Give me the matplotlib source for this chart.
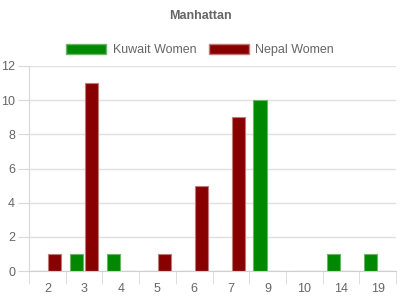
import matplotlib
matplotlib.use("Agg")
import matplotlib.pyplot as plt
from matplotlib.patches import Patch
import numpy as np

plt.rcParams['font.family'] = ['Liberation Sans', 'DejaVu Sans']

# dados
categorias = ['2', '3', '4', '5', '6', '7', '9', '10', '14', '19']
kuwait = [0, 1, 1, 0, 0, 0, 10, 0, 1, 1]
nepal = [1, 11, 0, 1, 5, 9, 0, 0, 0, 0]

verde = '#008800'
vermelho = '#880000'
cinza = '#666666'

fig = plt.figure(figsize=(4, 3), dpi=100)
ax = fig.add_axes([29 / 400, 29 / 300, 367 / 400, 205 / 300])

x = np.arange(len(categorias))
larg = 0.36
ax.bar(x - 0.205, kuwait, width=larg, color=verde, edgecolor='#66b866', linewidth=0.8)
ax.bar(x + 0.2, nepal, width=larg, color=vermelho, edgecolor='#c07a7a', linewidth=0.8)

ax.set_xlim(-0.5, len(categorias) - 0.5)
ax.set_ylim(0, 12)
ax.set_yticks(range(0, 13, 2))
ax.set_xticks(x)
ax.set_xticklabels(categorias)
ax.set_xticks(np.arange(-0.5, len(categorias), 1), minor=True)
ax.grid(axis='y', color='#e0e0e0', linewidth=1)
ax.set_axisbelow(True)

for lado in ['top', 'right']:
    ax.spines[lado].set_visible(False)
ax.spines['left'].set_color('#d8d8d8')
ax.spines['bottom'].set_color('#d0d0d0')

ax.tick_params(axis='y', colors='#d8d8d8', labelcolor=cinza, labelsize=9, length=8, pad=2)
ax.tick_params(axis='x', which='major', length=0, labelcolor=cinza, labelsize=9, pad=9)
ax.tick_params(axis='x', which='minor', length=9, color='#d8d8d8')

fig.text(0.5, 1 - 16 / 300, 'Manhattan', ha='center', va='center',
         fontsize=9, fontweight='bold', color=cinza)

handles = [Patch(facecolor=verde, edgecolor='#66b866', label='Kuwait Women'),
           Patch(facecolor=vermelho, edgecolor='#c07a7a', label='Nepal Women')]
leg = fig.legend(handles=handles, loc='center', bbox_to_anchor=(0.5, 1 - 50 / 300),
                 ncol=2, frameon=False, fontsize=9, handlelength=3.2, handleheight=0.95,
                 handletextpad=0.5, columnspacing=1.0)
for t in leg.get_texts():
    t.set_color(cinza)

fig.savefig('out.png', dpi=100)
